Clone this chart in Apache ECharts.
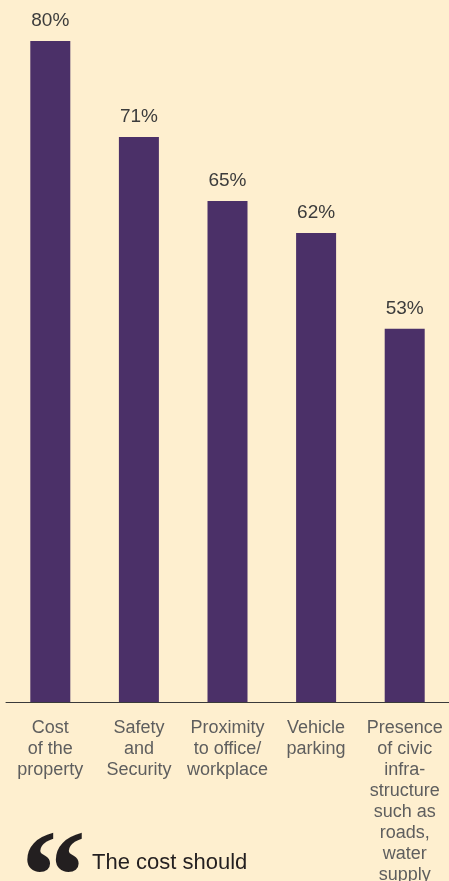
<!DOCTYPE html>
<html>
<head>
<meta charset="utf-8">
<script src="https://cdn.jsdelivr.net/npm/echarts@6/dist/echarts.min.js"></script>
<style>
  html, body { margin: 0; padding: 0; background: #feefcf; }
  #chart { width: 449px; height: 881px; }
</style>
</head>
<body>
<div id="chart"></div>
<script>
const categories = [
  'Cost\nof the\nproperty',
  'Safety\nand\nSecurity',
  'Proximity\nto office/\nworkplace',
  'Vehicle\nparking',
  'Presence\nof civic\ninfra-\nstructure\nsuch as\nroads,\nwater\nsupply'
]
const shares = [80, 71, 65, 62, 53]
const quoteText = 'The cost should'

const chart = echarts.init(document.getElementById('chart'))
const option = {
  backgroundColor: '#feefcf',
  animation: false,
  grid: { left: 6, right: 0, top: 41, bottom: 179, outerBoundsMode: 'none' },
  xAxis: {
    type: 'category',
    data: categories,
    axisTick: { show: false },
    axisLine: { lineStyle: { color: '#3a3a3a', width: 1 } },
    axisLabel: {
      interval: 0,
      margin: 16,
      color: '#5e5e5e',
      fontFamily: 'Liberation Sans',
      fontSize: 18,
      lineHeight: 21
    }
  },
  yAxis: {
    type: 'value',
    min: 18,
    max: 80,
    show: false
  },
  series: [
    {
      type: 'bar',
      data: shares,
      barWidth: 40,
      itemStyle: { color: '#4b3068' },
      label: {
        show: true,
        position: 'top',
        distance: 11,
        formatter: '{c}%',
        color: '#3c3c3c',
        fontFamily: 'Liberation Sans',
        fontSize: 19
      }
    }
  ],
  graphic: [
    {
      type: 'text',
      left: 21,
      top: 820,
      style: {
        text: '\u201c',
        font: 'bold 130px "Liberation Serif"',
        fill: '#231f20'
      }
    },
    {
      type: 'text',
      left: 92,
      top: 852,
      style: {
        text: quoteText,
        font: '22px "Liberation Sans"',
        fill: '#231f20'
      }
    }
  ]
}
chart.setOption(option)
</script>
</body>
</html>
